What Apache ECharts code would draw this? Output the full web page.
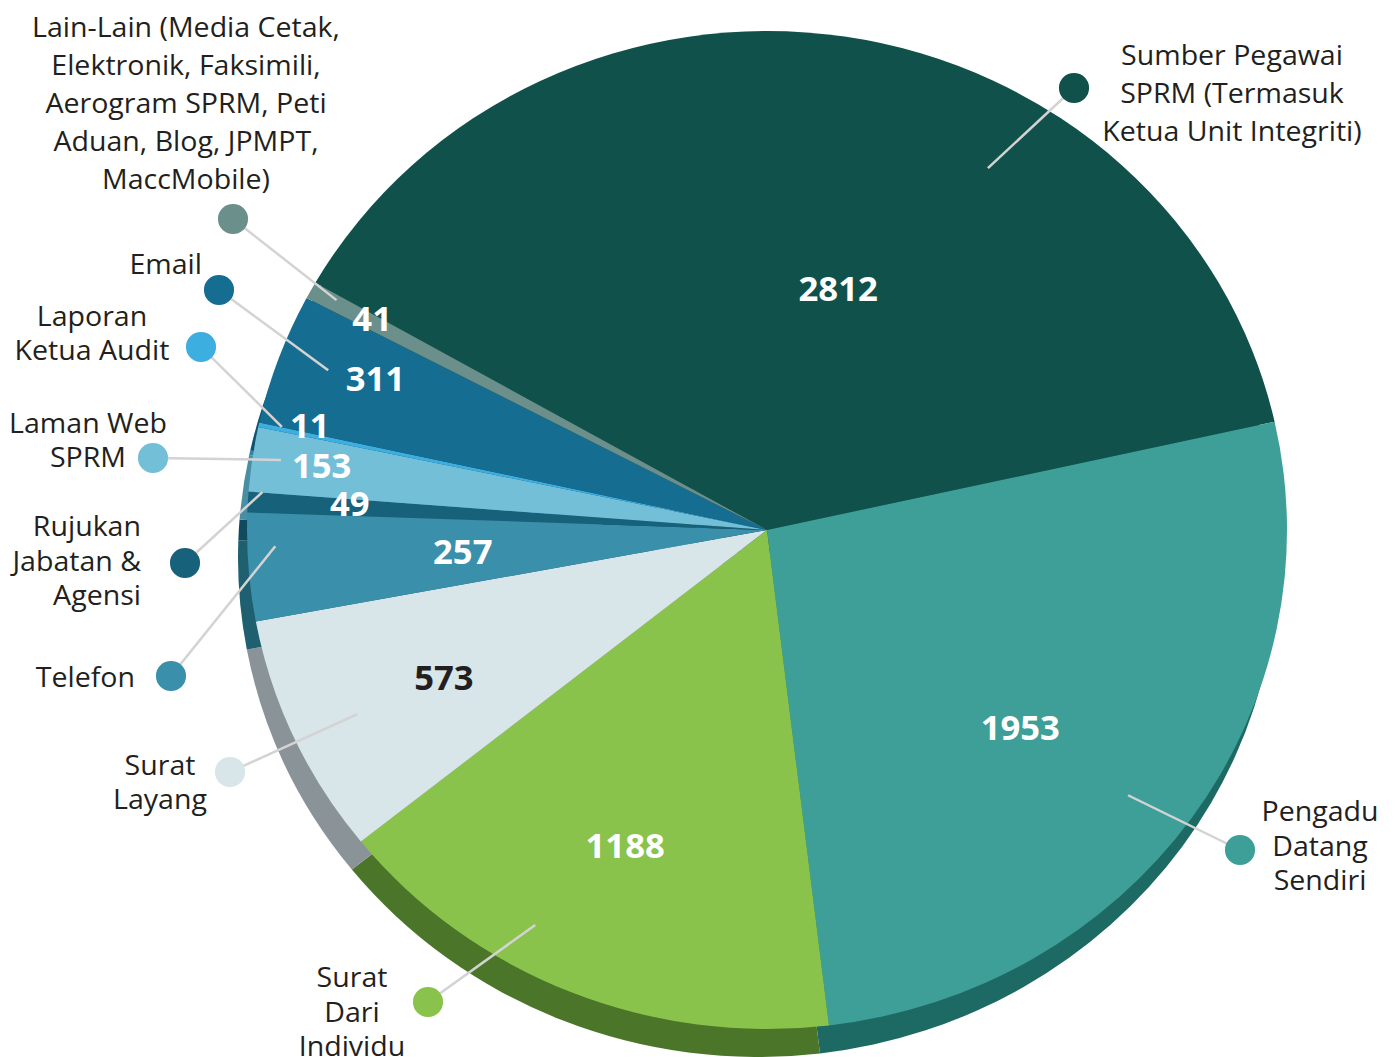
<!DOCTYPE html>
<html>
<head>
<meta charset="utf-8">
<script src="https://cdn.jsdelivr.net/npm/echarts@6/dist/echarts.min.js"></script>
<style>
html, body { margin: 0; padding: 0; background: #fff; overflow: hidden; }
#main { width: 1395px; height: 1110px; }
</style>
</head>
<body>
<div id="main"></div>
<script>
// complaint sources, clockwise starting at the top
var names = [
    'Sumber Pegawai\nSPRM (Termasuk\nKetua Unit Integriti)',
    'Pengadu\nDatang\nSendiri',
    'Surat\nDari\nIndividu',
    'Surat\nLayang',
    'Telefon',
    'Rujukan\nJabatan &\nAgensi',
    'Laman Web\nSPRM',
    'Laporan\nKetua Audit',
    'Email',
    'Lain-Lain (Media Cetak,\nElektronik, Faksimili,\nAerogram SPRM, Peti\nAduan, Blog, JPMPT,\nMaccMobile)'
];
var values = [2812, 1953, 1188, 573, 257, 49, 153, 11, 311, 41];

var colors = ['#10524b', '#3d9f98', '#89c34b', '#d8e5e9', '#3a8fab', '#18617b', '#74bfd8', '#3daee0', '#156d92', '#6b8f8b'];
var rimColors = ['#0b3d37', '#1d6a65', '#4b7629', '#8a9398', '#1e6070', '#0f4a5e', '#4a8ea3', '#2a86ad', '#0f5272', '#4f6b69'];

// layout (the pie in the original is a slightly flattened ellipse)
var CX = 767, CY = 530, R = 510, START = 150.3;
var SX = 520 / R, SY = 499 / R;
// where the numbers sit: [angle, distance from centre]
var valueSpot = [[73.6, 252], [-37.9, 321], [-114.2, 346], [-155.5, 355], [-176, 305], [176.3, 418], [171.7, 450], [167.1, 469], [158.8, 420], [151.8, 448]];
// where the leader lines start: [angle, distance]
var lineFrom = [[58.6, 424], [-36.3, 448], [-120.4, 458], [-155.8, 449], [-178.1, 492], [175.7, 506], [171.8, 491], [168, 496], [160, 467], [151.9, 488]];
var dotAt = [[1074, 88], [1240, 850], [428, 1002], [230, 772], [171, 676], [185, 563], [153, 458], [201, 347], [219, 290], [233, 219]];
var textAt = [[1232, 92, 'center'], [1320, 845, 'center'], [352, 1011, 'center'], [160, 781, 'center'], [135, 676, 'right'],
    [141, 560, 'right'], [88, 439, 'center'], [92, 332, 'center'], [202, 263, 'right'], [186, 102, 'center']];

var chartDom = document.getElementById('main');
chartDom.style.transformOrigin = CX + 'px ' + CY + 'px';
chartDom.style.transform = 'scale(' + SX + ',' + SY + ')';
var myChart = echarts.init(chartDom, null, { renderer: 'svg' });

// page point -> chart point (undo the css scale)
function toChart(p) {
    return [CX + (p[0] - CX) / SX, CY + (p[1] - CY) / SY];
}
function polar(a, d) {
    var t = a * Math.PI / 180;
    return toChart([CX + d * Math.cos(t), CY - d * Math.sin(t)]);
}

var font = '"Open Sans", "Noto Sans", sans-serif';

var rimData = [], mainData = [], dotData = [], textData = [];
values.forEach(function (v, i) {
    rimData.push({ value: v, name: names[i], itemStyle: { color: rimColors[i] } });
    mainData.push({
        value: v, name: names[i], itemStyle: { color: colors[i] },
        label: { color: i == 3 ? '#231f20' : '#ffffff' }
    });
    dotData.push({ value: v, name: names[i], label: { backgroundColor: colors[i] } });
    textData.push({ value: v, name: names[i], label: { lineHeight: ((i == 0 || i == 9) ? 38 : 34.5) / SY } });
});

var base = {
    type: 'pie',
    center: [CX, CY],
    radius: R,
    startAngle: START,
    silent: true,
    animation: false,
    avoidLabelOverlap: false
};

var option = {
    series: [
        Object.assign({}, base, {
            center: [CX - 9 / SX, CY + 28 / SY],
            z: 1,
            label: { show: false },
            labelLine: { show: false },
            data: rimData
        }),
        Object.assign({}, base, {
            z: 2,
            label: {
                show: true, position: 'inside', formatter: '{c}',
                fontFamily: font, fontWeight: 'bold', fontSize: 34
            },
            labelLine: { show: false },
            labelLayout: function (p) {
                var s = valueSpot[p.dataIndex];
                var pt = polar(s[0], s[1]);
                return { x: pt[0], y: pt[1], align: 'center', verticalAlign: 'middle' };
            },
            data: mainData
        }),
        Object.assign({}, base, {
            z: 3,
            itemStyle: { color: 'rgba(0,0,0,0)' },
            label: {
                show: true, position: 'outside', formatter: ' ',
                width: 30 / SX, height: 30 / SY, borderRadius: 15, padding: 0, fontSize: 10
            },
            labelLine: { show: true, lineStyle: { color: '#d3d3d3', width: 2.5 } },
            labelLayout: function (p) {
                var i = p.dataIndex;
                var s = lineFrom[i];
                var from = polar(s[0], s[1]);
                var to = toChart(dotAt[i]);
                return {
                    x: to[0], y: to[1], align: 'center', verticalAlign: 'middle',
                    labelLinePoints: [from, to]
                };
            },
            data: dotData
        }),
        Object.assign({}, base, {
            z: 4,
            itemStyle: { color: 'rgba(0,0,0,0)' },
            label: {
                show: true, position: 'outside', formatter: '{b}',
                fontFamily: font, fontSize: 28, color: '#231f20'
            },
            labelLine: { show: false },
            labelLayout: function (p) {
                var t = textAt[p.dataIndex];
                var pt = toChart(t);
                return { x: pt[0], y: pt[1], align: t[2], verticalAlign: 'middle' };
            },
            data: textData
        })
    ]
};
option && myChart.setOption(option);
</script>
</body>
</html>
